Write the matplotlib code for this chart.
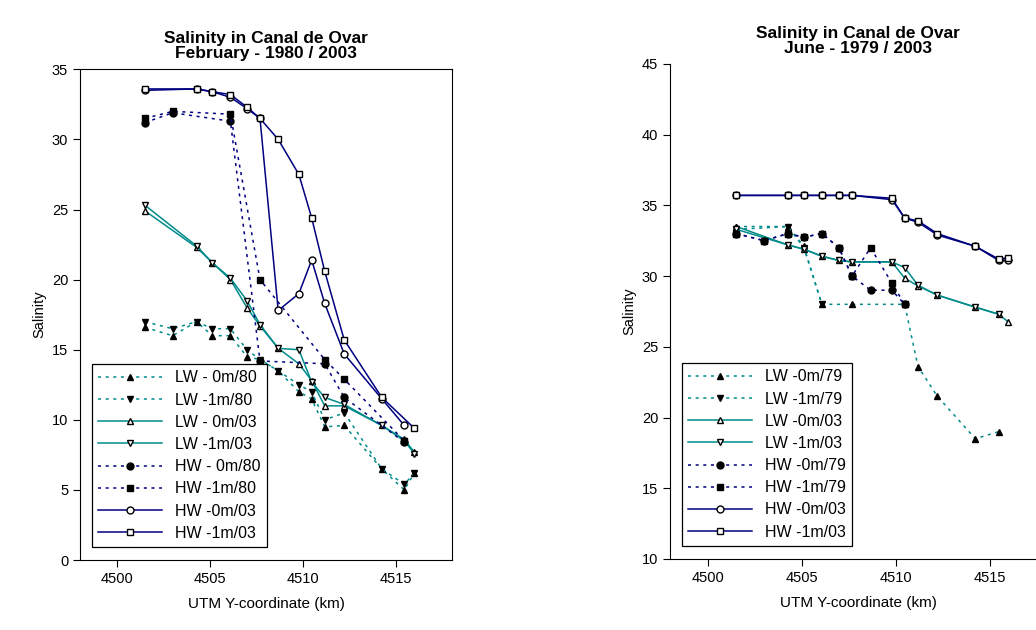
import matplotlib
matplotlib.use("Agg")
import matplotlib.pyplot as plt

plt.rcParams['font.family'] = ['Liberation Sans', 'DejaVu Sans']

TEAL = '#008b8b'
NAVY = '#000080'

# ---- February 1980 / 2003 ----
f_x_lw80 = [4501.5, 4502.98, 4504.27, 4505.12, 4506.09, 4506.98, 4507.68, 4508.66, 4509.77, 4510.46, 4511.16, 4512.21, 4514.23, 4515.44, 4515.98]
f_lw0_80 = [16.6, 16.0, 17.0, 16.0, 16.0, 14.5, 14.3, 13.5, 12.0, 11.5, 9.5, 9.6, 6.5, 5.0, 6.2]
f_lw1_80 = [17.0, 16.5, 17.0, 16.5, 16.5, 15.0, 14.3, 13.5, 12.5, 12.0, 10.0, 10.5, 6.5, 5.4, 6.2]

f_x_03 = [4501.5, 4504.27, 4505.12, 4506.09, 4506.98, 4507.68, 4508.66, 4509.77, 4510.46, 4511.16, 4512.21, 4514.23, 4515.44, 4515.98]
f_lw0_03 = [24.9, 22.3, 21.2, 20.0, 18.0, 16.7, 15.1, 14.0, 12.8, 11.0, 11.0, 9.6, 8.6, 7.7]
f_lw1_03 = [25.3, 22.4, 21.2, 20.1, 18.5, 16.8, 15.1, 15.0, 12.7, 11.6, 11.1, 9.6, 8.5, 7.6]

f_x_hw80 = [4501.5, 4502.98, 4506.09, 4507.68, 4511.16, 4512.21, 4515.44]
f_hw0_80 = [31.2, 31.9, 31.3, 14.2, 14.0, 11.6, 8.4]
f_hw1_80 = [31.5, 32.0, 31.8, 20.0, 14.3, 12.9, 8.5]

f_x_hw0_03 = [4501.5, 4504.27, 4505.12, 4506.09, 4506.98, 4507.68, 4508.66, 4509.77, 4510.46, 4511.16, 4512.21, 4514.23, 4515.44]
f_hw0_03 = [33.5, 33.6, 33.4, 33.0, 32.2, 31.5, 17.8, 19.0, 21.4, 18.3, 14.7, 11.5, 9.6]
f_x_hw1_03 = [4501.5, 4504.27, 4505.12, 4506.09, 4506.98, 4507.68, 4508.66, 4509.77, 4510.46, 4511.16, 4512.21, 4514.23, 4515.98]
f_hw1_03 = [33.6, 33.6, 33.4, 33.2, 32.3, 31.5, 30.0, 27.5, 24.4, 20.6, 15.7, 11.6, 9.4]

# ---- June 1979 / 2003 ----
j_x = [4501.53, 4504.27, 4505.12, 4506.08, 4506.98, 4507.68, 4509.8, 4510.48, 4511.19, 4512.22, 4514.24, 4515.48, 4516.0]
j_hw1_03 = [35.7, 35.7, 35.7, 35.7, 35.7, 35.7, 35.5, 34.1, 33.9, 33.0, 32.1, 31.2, 31.3]
j_hw0_03 = [35.7, 35.7, 35.7, 35.7, 35.7, 35.7, 35.4, 34.1, 33.8, 32.9, 32.1, 31.1, 31.1]
j_lw0_03 = [33.5, 32.2, 31.9, 31.4, 31.1, 31.0, 31.0, 29.85, 29.3, 28.65, 27.8, 27.3, 26.75]
j_x_lw1_03 = j_x[:-1]
j_lw1_03 = [33.3, 32.2, 31.9, 31.4, 31.1, 31.0, 31.0, 30.6, 29.35, 28.65, 27.8, 27.3]

j_x_lw79 = [4501.53, 4504.27, 4505.12, 4506.08, 4507.68, 4510.48, 4511.19, 4512.22, 4514.24, 4515.48]
j_lw0_79 = [33.5, 33.5, 32.1, 28.0, 28.0, 28.0, 23.6, 21.5, 18.5, 19.0]
j_x_lw1_79 = [4501.53, 4504.27, 4505.12, 4506.08]
j_lw1_79 = [33.3, 33.5, 32.0, 28.0]

j_x_hw79 = [4501.53, 4503.0, 4504.27, 4505.12, 4506.08, 4506.98, 4507.68, 4508.67, 4509.8, 4510.48]
j_hw0_79 = [33.0, 32.5, 33.0, 32.75, 33.0, 32.0, 30.0, 29.0, 29.0, 28.0]
j_hw1_79 = [33.0, 32.5, 33.0, 32.75, 33.0, 32.0, 30.0, 32.0, 29.5, 28.0]

fig = plt.figure(figsize=(10.36, 6.3), dpi=100)
ax1 = fig.add_axes([0.0772, 0.111, 0.359, 0.779])
ax2 = fig.add_axes([0.6467, 0.1127, 0.363, 0.786])

ms = 5
dot = dict(linestyle=(0, (2, 3)), linewidth=1.1, markersize=ms)
sol = dict(linestyle='-', linewidth=1.1, markersize=ms)

ax1.plot(f_x_lw80, f_lw0_80, color=TEAL, marker='^', mfc='black', mec='black', label='LW - 0m/80', **dot)
ax1.plot(f_x_lw80, f_lw1_80, color=TEAL, marker='v', mfc='black', mec='black', label='LW -1m/80', **dot)
ax1.plot(f_x_03, f_lw0_03, color=TEAL, marker='^', mfc='white', mec='black', label='LW - 0m/03', **sol)
ax1.plot(f_x_03, f_lw1_03, color=TEAL, marker='v', mfc='white', mec='black', label='LW -1m/03', **sol)
ax1.plot(f_x_hw80, f_hw0_80, color=NAVY, marker='o', mfc='black', mec='black', label='HW - 0m/80', **dot)
ax1.plot(f_x_hw80, f_hw1_80, color=NAVY, marker='s', mfc='black', mec='black', label='HW -1m/80', **dot)
ax1.plot(f_x_hw0_03, f_hw0_03, color=NAVY, marker='o', mfc='white', mec='black', label='HW -0m/03', **sol)
ax1.plot(f_x_hw1_03, f_hw1_03, color=NAVY, marker='s', mfc='white', mec='black', label='HW -1m/03', **sol)

ax2.plot(j_x_lw79, j_lw0_79, color=TEAL, marker='^', mfc='black', mec='black', label='LW -0m/79', **dot)
ax2.plot(j_x_lw1_79, j_lw1_79, color=TEAL, marker='v', mfc='black', mec='black', label='LW -1m/79', **dot)
ax2.plot(j_x, j_lw0_03, color=TEAL, marker='^', mfc='white', mec='black', label='LW -0m/03', **sol)
ax2.plot(j_x_lw1_03, j_lw1_03, color=TEAL, marker='v', mfc='white', mec='black', label='LW -1m/03', **sol)
ax2.plot(j_x_hw79, j_hw1_79, color=NAVY, marker='s', mfc='black', mec='black', label='HW -1m/79', **dot)
ax2.plot(j_x_hw79, j_hw0_79, color=NAVY, marker='o', mfc='black', mec='black', label='HW -0m/79', **dot)
ax2.plot(j_x, j_hw0_03, color=NAVY, marker='o', mfc='white', mec='black', label='HW -0m/03', **sol)
ax2.plot(j_x, j_hw1_03, color=NAVY, marker='s', mfc='white', mec='black', label='HW -1m/03', **sol)

ax1.set_xlim(4498, 4518)
ax1.set_ylim(0, 35)
ax2.set_xlim(4498, 4518)
ax2.set_ylim(10, 45)
ax2.spines['top'].set_visible(False)
ax2.spines['right'].set_visible(False)

order1 = [0, 1, 2, 3, 4, 5, 6, 7]
order2 = [0, 1, 2, 3, 5, 4, 6, 7]
for ax, title, order in [(ax1, 'Salinity in Canal de Ovar\nFebruary - 1980 / 2003', order1),
                         (ax2, 'Salinity in Canal de Ovar\nJune - 1979 / 2003', order2)]:
    ax.set_xticks([4500, 4505, 4510, 4515])
    ax.tick_params(labelsize=10.5, length=5)
    ax.set_xlabel('UTM Y-coordinate (km)', fontsize=11, labelpad=8)
    ax.set_ylabel('Salinity', fontsize=10.5)
    ax.set_title(title, fontsize=12.5, fontweight='bold', linespacing=1.0, pad=8)
    h, l = ax.get_legend_handles_labels()
    leg = ax.legend([h[i] for i in order], [l[i] for i in order],
                    loc='lower left', fontsize=11.5, fancybox=False, edgecolor='black',
                    framealpha=1, handlelength=4, borderpad=0.4, labelspacing=0.45,
                    bbox_to_anchor=(0.01, 0.01))
    leg.get_frame().set_linewidth(0.9)

fig.savefig('out.png', dpi=100)
